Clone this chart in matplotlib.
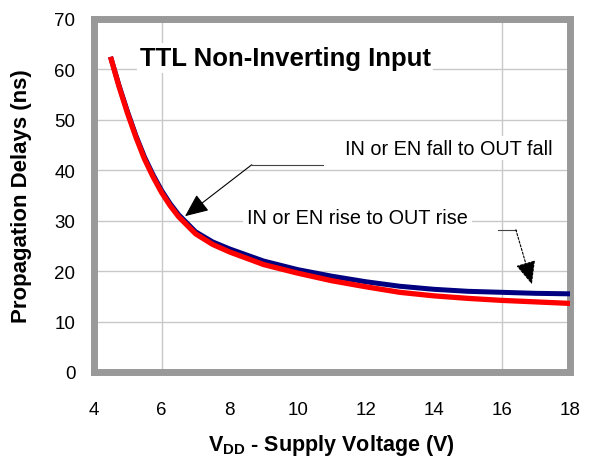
import matplotlib
matplotlib.use("Agg")
import matplotlib.pyplot as plt

plt.rcParams['font.family'] = ['Liberation Sans', 'DejaVu Sans']
plt.rcParams['mathtext.fontset'] = 'custom'
plt.rcParams['mathtext.rm'] = 'Liberation Sans'
plt.rcParams['mathtext.bf'] = 'Liberation Sans:bold'

# Supply voltage (V) and propagation delays (ns)
vdd = [4.5, 4.75, 5.0, 5.25, 5.5, 5.75, 6.0, 6.25, 6.5, 7.0, 7.5, 8.0, 9.0,
       10.0, 11.0, 12.0, 13.0, 14.0, 15.0, 16.0, 17.0, 18.0]
rise_delay = [62.5, 56.8, 51.6, 46.8, 42.6, 39.1, 36.0, 33.4, 31.2, 27.8, 25.8,
              24.4, 22.0, 20.3, 19.0, 17.9, 17.0, 16.4, 16.0, 15.8, 15.6, 15.5]
fall_delay = [62.5, 56.6, 51.3, 46.5, 42.2, 38.7, 35.6, 33.0, 30.8, 27.4, 25.3,
              23.8, 21.3, 19.6, 18.1, 16.9, 15.8, 15.1, 14.6, 14.2, 13.9, 13.6]

x_ticks = [4, 6, 8, 10, 12, 14, 16, 18]
y_ticks = [0, 10, 20, 30, 40, 50, 60, 70]
grid_x = [6, 16]
grid_y = [10, 20, 30, 40, 50, 60]

title_text = "TTL Non-Inverting Input"
fall_label = "IN or EN fall to OUT fall"
rise_label = "IN or EN rise to OUT rise"

fig = plt.figure(figsize=(6.05, 4.6), dpi=100)
ax = fig.add_axes([93.5 / 605, (460 - 373) / 460, (570 - 93.5) / 605, (373 - 20) / 460])

ax.set_xlim(4, 18)
ax.set_ylim(0, 70)
ax.set_xticks(x_ticks)
ax.set_yticks(y_ticks)
ax.tick_params(length=0, labelsize=13.5)
ax.tick_params(axis='y', pad=13)
ax.tick_params(axis='x', pad=21)

grid_color = '#c8c8c8'
for gx in grid_x:
    ax.axvline(gx, color=grid_color, lw=1.0, zorder=0)
for gy in grid_y:
    ax.axhline(gy, color=grid_color, lw=1.0, zorder=0)

for sp in ax.spines.values():
    sp.set_color('#999999')
    sp.set_linewidth(5)

ax.plot(vdd, rise_delay, color='#000080', lw=3.6, solid_capstyle='butt', zorder=3)
ax.plot(vdd, fall_delay, color='#ff0000', lw=3.8, solid_capstyle='butt', zorder=4)

ax.text(9.63, 62.3, title_text, fontsize=18.5, fontweight='bold', ha='center', va='center',
        bbox=dict(facecolor='white', edgecolor='none', pad=2), zorder=5)

# Fall annotation
ax.text(14.44, 44.4, fall_label, fontsize=14.3, ha='center', va='center',
        bbox=dict(facecolor='white', edgecolor='none', pad=2), zorder=5)
ax.plot([10.74, 8.65], [41.1, 41.1], color='#444444', lw=0.8, zorder=5)
ax.annotate('', xy=(6.69, 30.9), xytext=(8.65, 41.1),
            arrowprops=dict(arrowstyle='-|>,head_length=0.8,head_width=0.35',
                            mutation_scale=18, color='#444444', lw=0.8,
                            shrinkA=0, shrinkB=0, fc='black', ec='black'),
            zorder=6)

# Rise annotation
ax.text(11.76, 30.6, rise_label, fontsize=14.3, ha='center', va='center',
        bbox=dict(facecolor='white', edgecolor='none', pad=3), zorder=5)
ax.plot([15.88, 16.41], [28.2, 28.2], color='#444444', lw=0.8, zorder=5)
ax.annotate('', xy=(16.88, 17.4), xytext=(16.41, 28.2),
            arrowprops=dict(arrowstyle='-|>,head_length=0.8,head_width=0.35',
                            mutation_scale=18, color='black', lw=0.8, ls=(0, (2, 1.5)),
                            shrinkA=0, shrinkB=0, fc='black'),
            zorder=6)

ax.set_xlabel(r'V$_{\mathbf{DD}}$ - Supply Voltage (V)', fontsize=15.5, fontweight='bold')
ax.xaxis.set_label_coords(0.5, -0.17)
ax.set_ylabel('Propagation Delays (ns)', fontsize=16, fontweight='bold')
ax.yaxis.set_label_coords(-0.129, 0.5)

fig.savefig('out.png', dpi=100)
